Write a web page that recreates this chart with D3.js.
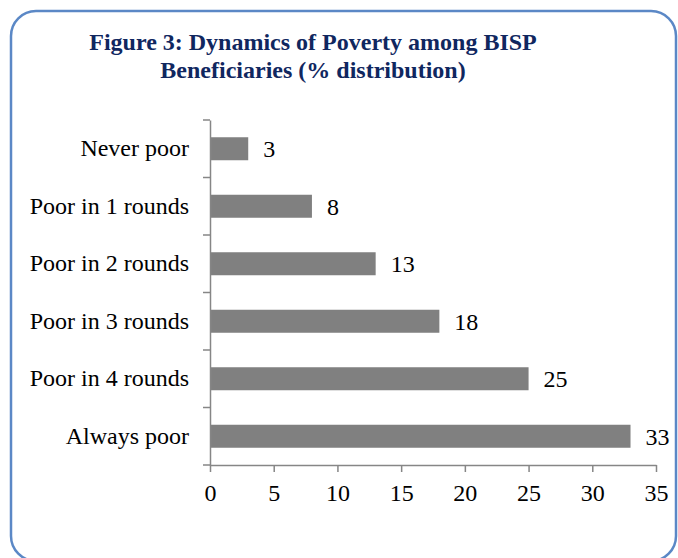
<!DOCTYPE html>
<html>
<head>
<meta charset="utf-8">
<script src="https://cdn.jsdelivr.net/npm/d3@7"></script>
<style>
  body { margin: 0; background: #fff; }
  text { font-family: "Liberation Serif", "Times New Roman", serif; }
</style>
</head>
<body>
<script>
  // data
  const categories = ['Never poor', 'Poor in 1 rounds', 'Poor in 2 rounds', 'Poor in 3 rounds', 'Poor in 4 rounds', 'Always poor'];
  const values = [3, 8, 13, 18, 25, 33];
  const xTicks = [0, 5, 10, 15, 20, 25, 30, 35];
  const titleLines = ['Figure 3: Dynamics of Poverty among BISP', 'Beneficiaries (% distribution)'];

  const width = 678;
  const height = 558;
  const plot = { left: 210, right: 656, top: 120, bottom: 465 };

  const svg = d3.select('body')
          .append('svg')
          .attr('width', width)
          .attr('height', height);

  // rounded frame around the figure
  svg.append('rect')
          .attr('x', 11)
          .attr('y', 11)
          .attr('width', 665)
          .attr('height', 550)
          .attr('rx', 25)
          .attr('fill', 'none')
          .attr('stroke', '#5b88c6')
          .attr('stroke-width', 2.5);

  // title
  svg.append('text')
          .attr('text-anchor', 'middle')
          .attr('font-weight', 'bold')
          .attr('font-size', 24)
          .attr('fill', '#10275f')
          .selectAll('tspan')
          .data(titleLines)
          .enter()
          .append('tspan')
          .attr('x', 313)
          .attr('y', (d, i) => 50 + i * 28)
          .text(d => d);

  const x = d3.scaleLinear()
          .domain([0, 35])
          .range([plot.left, plot.right]);

  const y = d3.scaleBand()
          .domain(categories)
          .range([plot.top, plot.bottom])
          .paddingInner(0.6)
          .paddingOuter(0.3);

  const axisColor = '#868686';

  // bars
  svg.append('g')
          .selectAll('rect')
          .data(categories)
          .enter()
          .append('rect')
          .attr('x', x(0))
          .attr('y', d => y(d))
          .attr('width', (d, i) => x(values[i]) - x(0))
          .attr('height', y.bandwidth())
          .attr('fill', '#808080');

  // value labels
  svg.append('g')
          .selectAll('text')
          .data(categories)
          .enter()
          .append('text')
          .attr('x', (d, i) => x(values[i]) + 15)
          .attr('y', d => y(d) + y.bandwidth() / 2)
          .attr('dy', '0.35em')
          .attr('font-size', 24)
          .attr('fill', '#000')
          .text((d, i) => values[i]);

  // x axis
  const xAxis = svg.append('g')
          .attr('transform', `translate(0,${plot.bottom})`)
          .call(d3.axisBottom(x).tickValues(xTicks).tickSize(7).tickPadding(12).tickSizeOuter(0));
  xAxis.select('.domain').attr('stroke', axisColor).attr('stroke-width', 1.5);
  xAxis.selectAll('.tick line').attr('stroke', axisColor).attr('stroke-width', 1.5);
  xAxis.selectAll('.tick text')
          .attr('font-family', '"Liberation Serif", "Times New Roman", serif')
          .attr('font-size', 24)
          .attr('fill', '#000');

  // y axis: labels at band centres, ticks at band boundaries
  const yAxis = svg.append('g')
          .attr('transform', `translate(${plot.left},0)`)
          .call(d3.axisLeft(y).tickSize(0).tickPadding(21));
  yAxis.select('.domain').attr('stroke', axisColor).attr('stroke-width', 1.5);
  yAxis.selectAll('.tick text')
          .attr('font-family', '"Liberation Serif", "Times New Roman", serif')
          .attr('font-size', 24)
          .attr('fill', '#000');

  const step = y.step();
  yAxis.append('g')
          .selectAll('line')
          .data(d3.range(categories.length + 1))
          .enter()
          .append('line')
          .attr('x1', -7)
          .attr('x2', 0)
          .attr('y1', i => plot.top + i * step)
          .attr('y2', i => plot.top + i * step)
          .attr('stroke', axisColor)
          .attr('stroke-width', 1.5);
</script>
</body>
</html>
